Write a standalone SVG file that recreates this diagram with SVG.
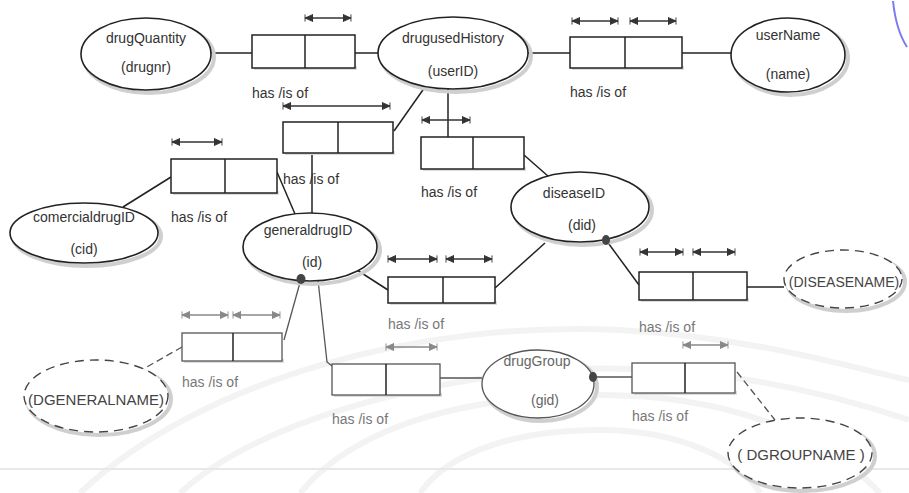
<svg xmlns="http://www.w3.org/2000/svg" width="909" height="493" viewBox="0 0 909 493">
<defs>
<marker id="ah" viewBox="0 0 10 10" refX="9" refY="5" markerWidth="9" markerHeight="9" markerUnits="userSpaceOnUse" orient="auto-start-reverse"><path d="M0,1 L9,5 L0,9 z M9,1 L9,9" fill="#333" stroke="#333" stroke-width="1"/></marker>
<marker id="ahg" viewBox="0 0 10 10" refX="9" refY="5" markerWidth="9" markerHeight="9" markerUnits="userSpaceOnUse" orient="auto-start-reverse"><path d="M0,1 L9,5 L0,9 z M9,1 L9,9" fill="#888" stroke="#888" stroke-width="1"/></marker>
</defs>
<style>
.bx{fill:#fff;stroke:#222;stroke-width:1.5}
.bxg{fill:#fff;stroke:#555;stroke-width:1.3}
.sh{fill:#dcdcdc;stroke:none}
.el{fill:#fff;stroke:#222;stroke-width:1.6}
.elg{fill:#fff;stroke:#555;stroke-width:1.3}
.eld{fill:#fff;stroke:#444;stroke-width:1.4;stroke-dasharray:9,6}
.esh{fill:none;stroke:#cfcfcf;stroke-width:4}
.dv{stroke:#222;stroke-width:1.5}
.ln{fill:none;stroke:#222;stroke-width:1.5}
.lng{fill:none;stroke:#555;stroke-width:1.3}
.lnd{fill:none;stroke:#555;stroke-width:1.3;stroke-dasharray:7,4}
.ar{stroke:#333;stroke-width:1.5;marker-start:url(#ah);marker-end:url(#ah)}
.arg{stroke:#888;stroke-width:1.5;marker-start:url(#ahg);marker-end:url(#ahg)}
.t{font-family:"Liberation Sans",Arial,sans-serif;font-size:14px;fill:#333;text-anchor:middle}
.tg{font-family:"Liberation Sans",Arial,sans-serif;font-size:14px;fill:#666;text-anchor:middle}
.lb{font-family:"Liberation Sans",Arial,sans-serif;font-size:14px;fill:#333}
.lbg{font-family:"Liberation Sans",Arial,sans-serif;font-size:14px;fill:#777}
.cap{font-family:"Liberation Sans",Arial,sans-serif;font-size:14px;fill:#444;text-anchor:middle}
.dot{fill:#444}
.wm{fill:none;stroke:#f3f3f3;stroke-width:6}
</style>
<rect width="909" height="493" fill="#fff"/>
<g id="watermark">
<path class="wm" d="M180 493 C260 420 420 380 560 370 C700 362 820 390 909 420"/>
<path class="wm" d="M300 493 C360 420 480 395 600 395 C720 395 820 430 880 493"/>
<path class="wm" d="M420 493 C450 450 520 430 600 430 C680 430 740 460 760 493"/>
<path class="wm" d="M80 493 C200 380 420 320 620 330 C760 338 860 370 909 380"/>
<line x1="0" y1="469" x2="909" y2="469" stroke="#e8e8e8" stroke-width="2"/>
<path d="M893 1 Q896 30 907 47" fill="none" stroke="#7b7bee" stroke-width="2"/>
</g>
<g id="connectors">
<line class="ln" x1="211" y1="53" x2="252" y2="53"/>
<line class="ln" x1="355" y1="53" x2="379" y2="53"/>
<line class="ln" x1="527" y1="53" x2="570" y2="53"/>
<line class="ln" x1="682" y1="53" x2="732" y2="53"/>
<line class="ln" x1="425" y1="87" x2="394" y2="131"/>
<line class="ln" x1="312" y1="153" x2="312" y2="213"/>
<line class="ln" x1="448" y1="89" x2="448" y2="137"/>
<line class="ln" x1="524" y1="155" x2="549" y2="177"/>
<line class="ln" x1="171" y1="177" x2="123" y2="207"/>
<line class="ln" x1="277" y1="172" x2="295" y2="214"/>
<line class="ln" x1="357" y1="270" x2="388" y2="290"/>
<line class="ln" x1="495" y1="288" x2="545" y2="243"/>
<line class="ln" x1="606" y1="240" x2="639" y2="285"/>
<line class="ln" x1="747" y1="287" x2="784" y2="287"/>
<line class="lng" x1="301" y1="279" x2="284" y2="340"/>
<line class="lnd" x1="182" y1="347" x2="138" y2="372"/>
<polyline class="lng" points="318,280 327,362 332,366"/>
<line class="lng" x1="440" y1="378" x2="482" y2="378"/>
<line class="lng" x1="593" y1="377" x2="632" y2="377"/>
<line class="lnd" x1="737" y1="372" x2="775" y2="420"/>
<line class="ar" x1="305" y1="18" x2="351" y2="18"/>
<line class="ar" x1="572" y1="21" x2="618" y2="21"/>
<line class="ar" x1="630" y1="21" x2="676" y2="21"/>
<line class="ar" x1="283" y1="106" x2="390" y2="106"/>
<line class="ar" x1="422" y1="120" x2="470" y2="120"/>
<line class="ar" x1="172" y1="142" x2="222" y2="142"/>
<line class="ar" x1="388" y1="259" x2="437" y2="259"/>
<line class="ar" x1="446" y1="259" x2="492" y2="259"/>
<line class="ar" x1="640" y1="252" x2="683" y2="252"/>
<line class="ar" x1="693" y1="252" x2="735" y2="252"/>
<line class="arg" x1="182" y1="315" x2="228" y2="315"/>
<line class="arg" x1="233" y1="315" x2="280" y2="315"/>
<line class="arg" x1="386" y1="347" x2="437" y2="347"/>
<line class="arg" x1="683" y1="345" x2="728" y2="345"/>
</g>
<g id="drugQuantity">
<ellipse class="esh" cx="149" cy="57" rx="65" ry="36"/>
<ellipse class="el" cx="146" cy="54" rx="65" ry="36"/>
<text class="t" x="146" y="43">drugQuantity</text>
<text class="t" x="146" y="72">(drugnr)</text>
</g>
<g id="drugusedHistory">
<ellipse class="esh" cx="456" cy="56" rx="75" ry="36"/>
<ellipse class="el" cx="453" cy="53" rx="75" ry="36"/>
<text class="t" x="453" y="43">drugusedHistory</text>
<text class="t" x="453" y="76">(userID)</text>
</g>
<g id="userName">
<ellipse class="esh" cx="791" cy="58" rx="57" ry="37"/>
<ellipse class="el" cx="788" cy="55" rx="57" ry="37"/>
<text class="t" x="788" y="40">userName</text>
<text class="t" x="788" y="79">(name)</text>
</g>
<g id="diseaseID">
<ellipse class="esh" cx="583" cy="210" rx="69" ry="35"/>
<ellipse class="el" cx="580" cy="207" rx="69" ry="35"/>
<text class="t" x="574" y="198">diseaseID</text>
<text class="t" x="582" y="230">(did)</text>
<ellipse class="dot" cx="606" cy="240" rx="4" ry="5"/>
</g>
<g id="generaldrugID">
<ellipse class="esh" cx="313" cy="250" rx="67" ry="34"/>
<ellipse class="el" cx="310" cy="247" rx="67" ry="34"/>
<text class="t" x="308" y="235">generaldrugID</text>
<text class="t" x="312" y="267">(id)</text>
<ellipse class="dot" cx="301" cy="279" rx="4.5" ry="5"/>
</g>
<g id="comercialdrugID">
<ellipse class="esh" cx="87" cy="236" rx="74" ry="30"/>
<ellipse class="el" cx="84" cy="233" rx="74" ry="30"/>
<text class="t" x="84" y="222">comercialdrugID</text>
<text class="t" x="84" y="254">(cid)</text>
</g>
<g id="drugGroup">
<ellipse class="esh" cx="541" cy="387" rx="56" ry="34"/>
<ellipse class="elg" cx="538" cy="384" rx="56" ry="34"/>
<text class="tg" x="537" y="366">drugGroup</text>
<text class="tg" x="545" y="405">(gid)</text>
<ellipse class="dot" cx="593" cy="377" rx="4" ry="5"/>
</g>
<g id="DISEASENAME">
<ellipse class="esh" cx="846" cy="282" rx="59" ry="29"/>
<ellipse class="eld" cx="843" cy="279" rx="59" ry="29"/>
<text class="cap" x="844" y="287">(DISEASENAME)</text>
</g>
<g id="DGENERALNAME">
<ellipse class="esh" cx="99" cy="399" rx="72" ry="36"/>
<ellipse class="eld" cx="96" cy="396" rx="72" ry="36"/>
<text class="cap" x="96" y="405" style="font-size:15px">(DGENERALNAME)</text>
</g>
<g id="DGROUPNAME">
<ellipse class="esh" cx="803" cy="456" rx="72" ry="35"/>
<ellipse class="eld" cx="800" cy="453" rx="72" ry="35"/>
<text class="cap" x="801" y="460" style="font-size:15px">( DGROUPNAME )</text>
</g>
<g id="rel1">
<rect class="sh" x="254" y="66" width="103" height="4"/>
<rect class="bx" x="252" y="35" width="103" height="33"/>
<line class="dv" x1="305" y1="35" x2="305" y2="68"/>
<text class="lb" x="252" y="98">has /is of</text>
</g>
<g id="rel2">
<rect class="sh" x="572" y="66" width="112" height="4"/>
<rect class="bx" x="570" y="37" width="112" height="31"/>
<line class="dv" x1="625" y1="37" x2="625" y2="68"/>
<text class="lb" x="570" y="97">has /is of</text>
</g>
<g id="rel3">
<rect class="sh" x="285" y="151" width="110" height="4"/>
<rect class="bx" x="283" y="122" width="110" height="31"/>
<line class="dv" x1="338" y1="122" x2="338" y2="153"/>
<text class="lb" x="283" y="184">has /is of</text>
</g>
<g id="rel4">
<rect class="sh" x="423" y="167" width="103" height="4"/>
<rect class="bx" x="421" y="137" width="103" height="32"/>
<line class="dv" x1="473" y1="137" x2="473" y2="169"/>
<text class="lb" x="421" y="197">has /is of</text>
</g>
<g id="rel5">
<rect class="sh" x="173" y="191" width="106" height="4"/>
<rect class="bx" x="171" y="159" width="106" height="34"/>
<line class="dv" x1="225" y1="159" x2="225" y2="193"/>
<text class="lb" x="171" y="222">has /is of</text>
</g>
<g id="rel6">
<rect class="sh" x="390" y="301" width="107" height="4"/>
<rect class="bx" x="388" y="277" width="107" height="26"/>
<line class="dv" x1="443" y1="277" x2="443" y2="303"/>
<text class="lbg" x="388" y="329">has /is of</text>
</g>
<g id="rel7">
<rect class="sh" x="641" y="298" width="108" height="4"/>
<rect class="bx" x="639" y="272" width="108" height="28"/>
<line class="dv" x1="693" y1="272" x2="693" y2="300"/>
<text class="lbg" x="639" y="332">has /is of</text>
</g>
<g id="rel8">
<rect class="sh" x="184" y="359" width="100" height="4"/>
<rect class="bxg" x="182" y="333" width="100" height="28"/>
<line class="dv" x1="233" y1="333" x2="233" y2="361" stroke="#555"/>
<text class="lbg" x="182" y="387">has /is of</text>
</g>
<g id="rel9">
<rect class="sh" x="334" y="393" width="108" height="4"/>
<rect class="bxg" x="332" y="364" width="108" height="31"/>
<line class="dv" x1="386" y1="364" x2="386" y2="395" stroke="#555"/>
<text class="lbg" x="332" y="424">has /is of</text>
</g>
<g id="rel10">
<rect class="sh" x="634" y="391" width="103" height="4"/>
<rect class="bxg" x="632" y="363" width="103" height="30"/>
<line class="dv" x1="685" y1="363" x2="685" y2="393" stroke="#555"/>
<text class="lbg" x="632" y="421">has /is of</text>
</g>
</svg>
